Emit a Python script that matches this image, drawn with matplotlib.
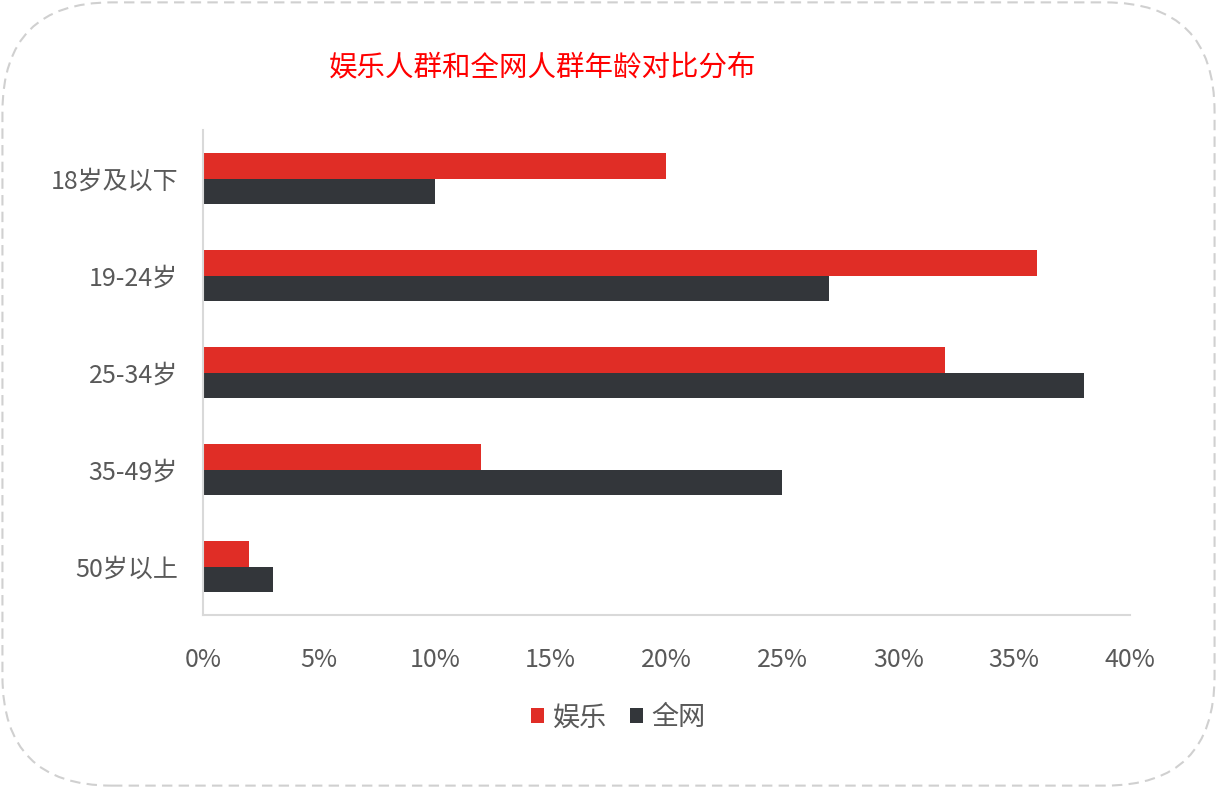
import matplotlib.pyplot as plt
import numpy as np
from matplotlib.patches import FancyBboxPatch
from matplotlib.ticker import FuncFormatter

plt.rcParams['font.family'] = ['Noto Sans CJK SC', 'DejaVu Sans']

# data
age_groups = ['18岁及以下', '19-24岁', '25-34岁', '35-49岁', '50岁以上']
yule = [20, 36, 32, 12, 2]
quanwang = [10, 27, 38, 25, 3]
series_names = ['娱乐', '全网']

red = '#e02d26'
dark = '#33363a'
text_gray = '#595959'

fig = plt.figure(figsize=(12.17, 7.88), dpi=100)
ax = fig.add_axes([0.1668, 0.2195, 0.7617, 0.6155])

y = np.arange(len(age_groups))
h = 0.26
ax.barh(y - h / 2, yule, height=h, color=red, label=series_names[0])
ax.barh(y + h / 2, quanwang, height=h, color=dark, label=series_names[1])

ax.set_ylim(len(age_groups) - 0.5, -0.5)
ax.set_xlim(0, 40)
ax.set_xticks(np.arange(0, 41, 5))
ax.xaxis.set_major_formatter(FuncFormatter(lambda v, p: '%d%%' % v))
ax.set_yticks(y)
ax.set_yticklabels(age_groups)
ax.tick_params(axis='both', length=0, labelsize=18, colors=text_gray)
ax.tick_params(axis='x', pad=23)
ax.tick_params(axis='y', pad=18)

for s in ['top', 'right']:
    ax.spines[s].set_visible(False)
for s in ['left', 'bottom']:
    ax.spines[s].set_color('#d9d9d9')
    ax.spines[s].set_linewidth(1.5)

fig.text(0.446, 0.914, '娱乐人群和全网人群年龄对比分布', color='#ff0000',
         fontsize=20.5, ha='center', va='center')

leg = fig.legend(loc='center', bbox_to_anchor=(0.508, 0.089), ncol=2, frameon=False,
                 fontsize=19.5, handlelength=0.5, handleheight=0.5, handletextpad=0.3,
                 columnspacing=0.85)
for t in leg.get_texts():
    t.set_color(text_gray)

# rounded dashed border
border = FancyBboxPatch((0.002, 0.003), 0.996, 0.994,
                        boxstyle='round,pad=0,rounding_size=0.09',
                        transform=fig.transFigure, fill=False,
                        edgecolor='#d0d0d0', linewidth=1.5, linestyle=(0, (5, 3)),
                        mutation_aspect=1217 / 788)
fig.patches.append(border)

fig.savefig('out.png', dpi=100)
